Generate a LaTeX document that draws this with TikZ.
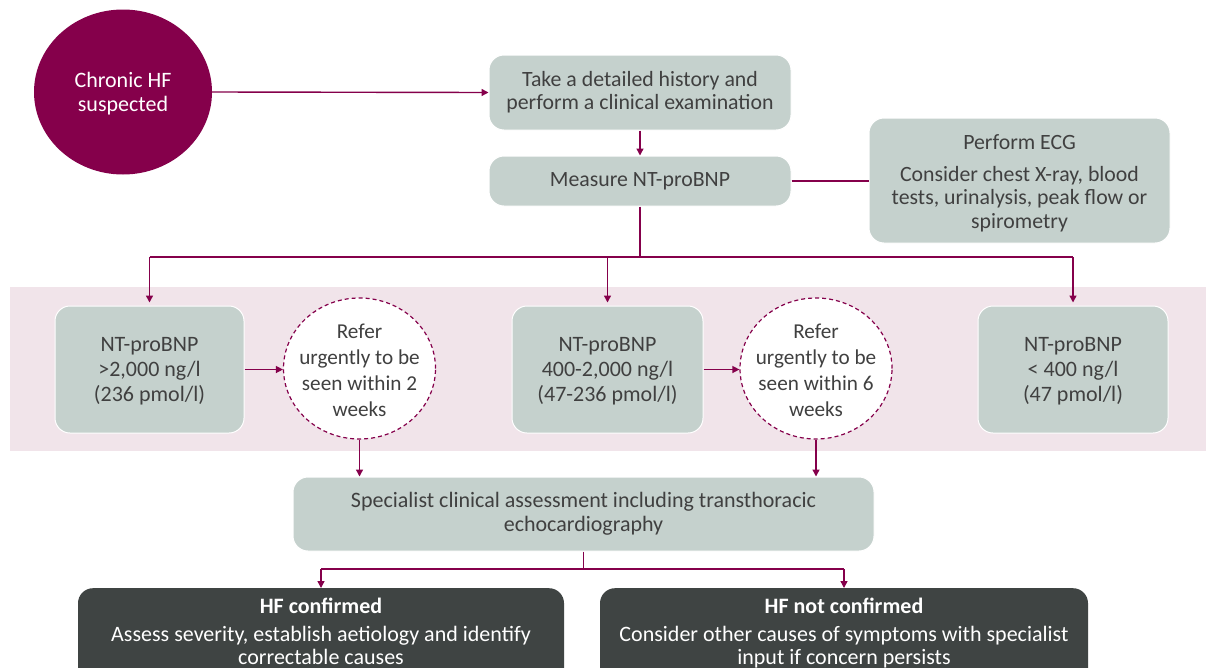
\documentclass[tikz,border=0pt]{standalone}
\usepackage{fontspec}
\setmainfont{Carlito}
\usetikzlibrary{arrows.meta,shapes.geometric}
\definecolor{mag}{HTML}{85004B}
\definecolor{boxg}{HTML}{C5D1CD}
\definecolor{txt}{HTML}{404040}
\definecolor{band}{HTML}{F1E4EA}
\definecolor{dark}{HTML}{3F4443}
\tikzset{
  gbox/.style={fill=boxg, draw=white, line width=1pt, rounded corners=15pt, align=center, text=txt, inner sep=0pt},
  refer/.style={ellipse, fill=white, draw=mag, dashed, dash pattern=on 4pt off 3pt, line width=1.2pt, minimum width=152pt, minimum height=141pt, inner sep=0pt},
  refertext/.style={align=center, text=txt, inner sep=0pt, font=\fontsize{21.2}{26}\selectfont},
  dbox/.style={fill=dark, rounded corners=15pt, inner sep=0pt},
  dtext/.style={align=center, text=white, font=\fontsize{22}{23}\selectfont, inner sep=0pt},
  conn/.style={draw=mag, line width=1.4pt},
  arr/.style={conn, -{Triangle[width=7pt,length=7pt]}},
}
\begin{document}
\begin{tikzpicture}[x=1pt,y=-1pt]
\useasboundingbox (0,0) rectangle (1206,667);
\clip (0,0) rectangle (1206,667);
\fill[white] (0,0) rectangle (1206,667);
\fill[band] (10,287) rectangle (1206,451);

\node[ellipse, fill=mag, minimum width=178pt, minimum height=165pt, inner sep=0pt] (chf) at (123,92) {};
\node[align=center, text=white, inner sep=0pt, font=\fontsize{22}{24}\selectfont] (chft) at (123,94) {Chronic HF\\suspected};

\node[gbox, minimum width=302pt, minimum height=75pt, font=\fontsize{21.8}{23}\selectfont] (hist) at (640,92.5) {Take a detailed history and\\perform a clinical examination};
\node[gbox, minimum width=302pt, minimum height=50pt, font=\fontsize{21.8}{23}\selectfont] (meas) at (640,181) {Measure NT-proBNP};
\node[gbox, minimum width=301pt, minimum height=125pt] (ecg) at (1019.5,180.5) {};
\node[refertext, font=\fontsize{21.8}{23.5}\selectfont] (ecgt) at (1019.5,183.5) {Perform ECG\\[8pt]Consider chest X-ray, blood\\tests, urinalysis, peak flow or\\spirometry};

\node[gbox, minimum width=189pt, minimum height=127pt] (na) at (149.5,369.5) {};
\node[gbox, minimum width=191pt, minimum height=127pt] (nb) at (607.5,369.5) {};
\node[gbox, minimum width=190pt, minimum height=127pt] (nc) at (1073,369.5) {};
\node[refertext, font=\fontsize{22}{25}\selectfont] (nat) at (149.5,371) {NT-proBNP\\>2,000 ng/l\\(236 pmol/l)};
\node[refertext, font=\fontsize{22}{25}\selectfont] (nbt) at (607.5,371) {NT-proBNP\\400-2,000 ng/l\\(47-236 pmol/l)};
\node[refertext, font=\fontsize{22}{25}\selectfont] (nct) at (1073,371) {NT-proBNP\\< 400 ng/l\\(47 pmol/l)};

\node[refer] (r1) at (359.5,368.5) {};
\node[refertext] (r1t) at (359.5,370) {Refer\\urgently to be\\seen within 2\\weeks};
\node[refer] (r2) at (816,368.5) {};
\node[refertext] (r2t) at (816,370) {Refer\\urgently to be\\seen within 6\\weeks};

\node[gbox, minimum width=581pt, minimum height=74pt, font=\fontsize{22}{24}\selectfont] (spec) at (583.5,514) {Specialist clinical assessment including transthoracic\\echocardiography};

\node[dbox, anchor=north, minimum width=486pt, minimum height=110pt] (hfc) at (321,588) {};
\node[dtext, anchor=north] (hfct) at (321,598) {\textbf{HF confirmed}\\[5pt]Assess severity, establish aetiology and identify\\correctable causes};
\node[dbox, anchor=north, minimum width=488pt, minimum height=110pt] (hfn) at (844,588) {};
\node[dtext, anchor=north] (hfnt) at (844,598) {\textbf{HF not confirmed}\\[5pt]Consider other causes of symptoms with specialist\\input if concern persists};

\coordinate (j1) at (640,257);
\coordinate (j2) at (583.5,569);

\draw[arr] (chf.east) -- (hist.west);
\draw[arr] (hist) -- (meas);
\draw[conn] (meas.east) -- (meas.east -| ecg.west);
\draw[conn] (meas.south) -- (j1);
\draw[conn] (j1 -| na) -- (j1 -| nc);
\draw[arr, shorten >=3pt] (j1 -| na) -- (na.north);
\draw[arr, shorten >=3pt] (j1 -| nb) -- (nb.north);
\draw[arr, shorten >=3pt] (j1 -| nc) -- (nc.north);
\draw[arr] (na.east) -- (na.east -| r1.west);
\draw[arr] (nb.east) -- (nb.east -| r2.west);
\draw[arr] (r1.south) -- (r1.south |- spec.north);
\draw[arr] (r2.south) -- (r2.south |- spec.north);
\draw[conn] (spec.south) -- (j2);
\draw[conn] (j2 -| hfc) -- (j2 -| hfn);
\draw[arr] (j2 -| hfc) -- (hfc.north);
\draw[arr] (j2 -| hfn) -- (hfn.north);
\end{tikzpicture}
\end{document}
